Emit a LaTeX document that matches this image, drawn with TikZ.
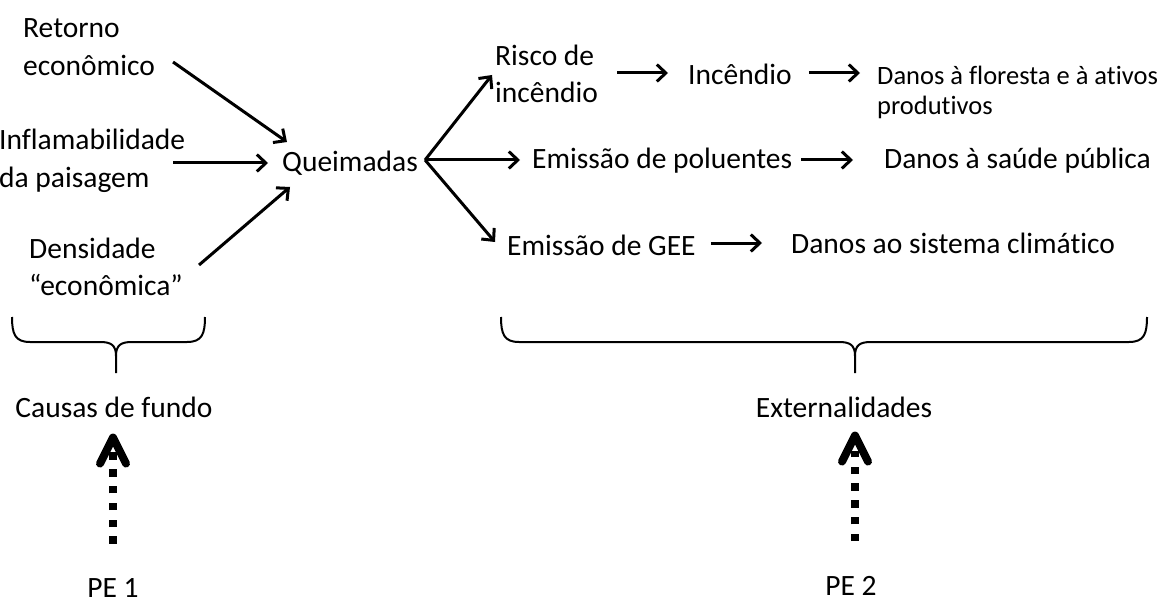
\documentclass[tikz,border=0pt]{standalone}
\usepackage{fontspec}
\setmainfont{Carlito}[Ligatures={NoCommon}]
\usetikzlibrary{arrows.meta}
\begin{document}
\begin{tikzpicture}[x=1pt,y=-1pt,
  txt/.style={inner sep=0pt,font=\fontsize{29.5}{37.5}\selectfont},
  arr/.style={line width=3pt,-{Straight Barb[length=9pt,width=17pt]}},
  bracepath/.style={line width=2pt},
  dotline/.style={line width=8pt,dash pattern=on 7.5pt off 9.3pt},
  chevron/.style={line width=8pt,line cap=round,line join=round}]
\useasboundingbox[fill=white] (0,0) rectangle (1164,604);

\node[txt,anchor=west,align=left] (ret) at (23,47) {Retorno\\econômico};
\node[txt,anchor=west,align=left] (infl) at (-1,161) {Inflamabilidade\\da paisagem};
\node[txt,anchor=west,align=left] (dens) at (29,267) {Densidade\\“econômica”};
\node[txt,anchor=west] (q) at (282,163) {Queimadas};
\node[txt,anchor=west,align=left] (risk) at (495,74) {Risco de\\incêndio};
\node[txt,anchor=west] (inc) at (688,74) {Incêndio};
\node[txt,anchor=west,align=left,font=\fontsize{26.5}{30}\selectfont] (flor) at (877,92) {Danos à floresta e à ativos\\produtivos};
\node[txt,anchor=west] (pol) at (532,161) {Emissão de poluentes};
\node[txt,anchor=west] (sau) at (884,161) {Danos à saúde pública};
\node[txt,anchor=west] (gee) at (507,245) {Emissão de GEE};
\node[txt,anchor=west] (sis) at (791,243) {Danos ao sistema climático};
\node[txt] (cf) at (114,407) {Causas de fundo};
\node[txt] (ext) at (844,407) {Externalidades};
\node[txt] (pe1) at (113,588) {PE 1};
\node[txt] (pe2) at (851,586) {PE 2};

\draw[arr] ([shift={(18,15)}]ret.east) -- ([shift={(5,-21)}]q.west);
\draw[arr] ([shift={(-12,2)}]infl.east) -- ([shift={(-14,0)}]q.west);
\draw[arr] ([shift={(16,-2)}]dens.east) -- ([shift={(8,24)}]q.west);
\draw[arr] ([shift={(7,-3)}]q.east) -- ([shift={(-3,1)}]risk.west);
\draw[arr] ([shift={(7,-3)}]q.east) -- ([shift={(-12,-1)}]pol.west);
\draw[arr] ([shift={(7,-3)}]q.east) -- ([shift={(-12,-3)}]gee.west);
\draw[arr] ([shift={(19,-1)}]risk.east) -- ([shift={(-20,-1)}]inc.west);
\draw[arr] ([shift={(17,-1)}]inc.east) -- ([shift={(-17,-19)}]flor.west);
\draw[arr] ([shift={(9,-1)}]pol.east) -- ([shift={(-31,-1)}]sau.west);
\draw[arr] ([shift={(15,-2)}]gee.east) -- ([shift={(-29,0)}]sis.west);

\draw[bracepath] (12,317) .. controls (12,334) and (15,342) .. (30,342) -- (100,342)
  .. controls (111,342) and (116,345) .. (116,356) -- (116,373);
\draw[bracepath] (205,317) .. controls (205,334) and (202,342) .. (187,342) -- (132,342)
  .. controls (121,342) and (116,345) .. (116,356);
\draw[bracepath] (501,317) .. controls (501,334) and (504,342) .. (519,342) -- (839,342)
  .. controls (850,342) and (855,345) .. (855,356) -- (855,373);
\draw[bracepath] (1147,317) .. controls (1147,334) and (1144,342) .. (1129,342) -- (871,342)
  .. controls (860,342) and (855,345) .. (855,356);

\draw[dotline] ([shift={(0,-34.5)}]pe1.north) -- ([shift={(-1,34)}]cf.south);
\draw[chevron] ([shift={(-14,46)}]cf.south) -- ([shift={(-1,20)}]cf.south) -- ([shift={(12,46)}]cf.south);
\draw[dotline] ([shift={(4,-35)}]pe2.north) -- ([shift={(11,33)}]ext.south);
\draw[chevron] ([shift={(-2,44)}]ext.south) -- ([shift={(11,18)}]ext.south) -- ([shift={(24,44)}]ext.south);
\end{tikzpicture}
\end{document}
